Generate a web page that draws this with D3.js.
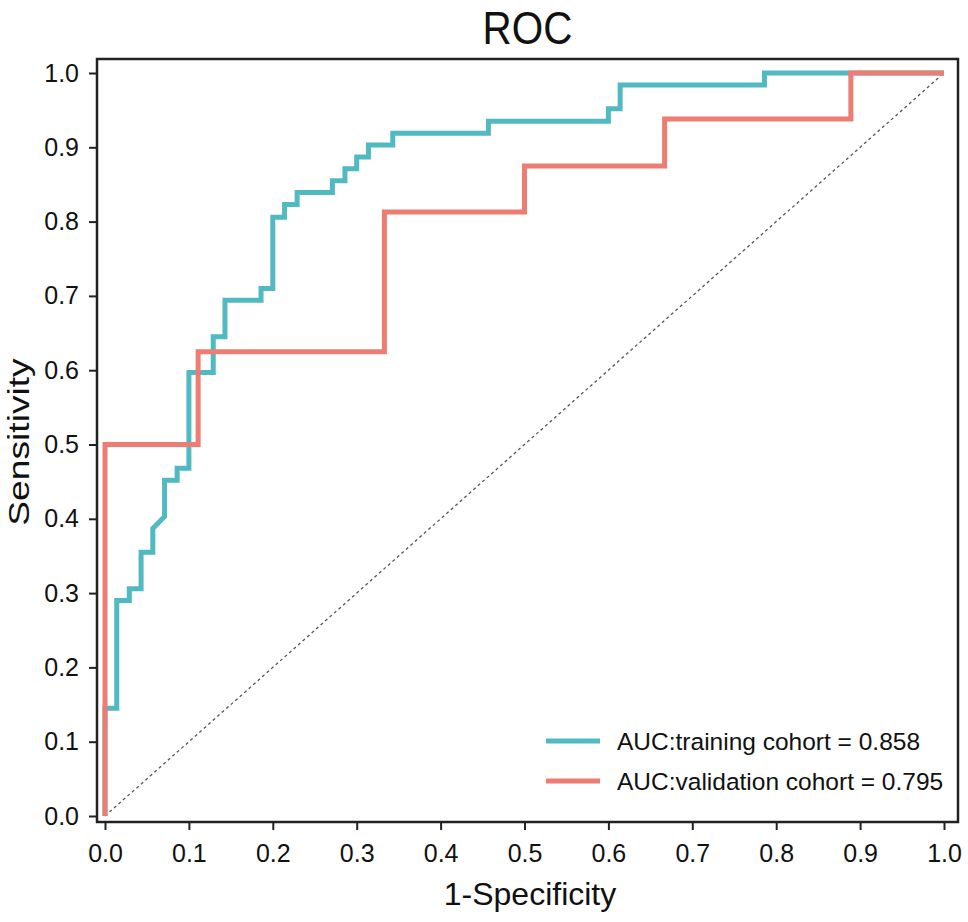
<!DOCTYPE html>
<html>
<head>
<meta charset="utf-8">
<script src="https://cdn.jsdelivr.net/npm/d3@7"></script>
<style>
  body { margin: 0; background: #fff; }
  text { font-family: "Liberation Sans", Arial, sans-serif; fill: #111; }
</style>
</head>
<body>
<div id="chart"></div>
<script>
// training cohort ROC (1-specificity, sensitivity)
const trainFpr = [0, 0, 0.014, 0.014, 0.029, 0.029, 0.043, 0.043, 0.057, 0.057, 0.071, 0.071, 0.086, 0.086,
  0.100, 0.100, 0.129, 0.129, 0.143, 0.143, 0.186, 0.186, 0.200, 0.200, 0.214, 0.214, 0.229, 0.229,
  0.271, 0.271, 0.286, 0.286, 0.300, 0.300, 0.314, 0.314, 0.343, 0.343, 0.457, 0.457, 0.600, 0.600,
  0.614, 0.614, 0.786, 0.786, 1];
const trainTpr = [0, 0.145, 0.145, 0.290, 0.290, 0.306, 0.306, 0.355, 0.355, 0.387, 0.403, 0.452, 0.452, 0.468,
  0.468, 0.597, 0.597, 0.645, 0.645, 0.694, 0.694, 0.710, 0.710, 0.806, 0.806, 0.823, 0.823, 0.839,
  0.839, 0.855, 0.855, 0.871, 0.871, 0.887, 0.887, 0.903, 0.903, 0.919, 0.919, 0.935, 0.935, 0.952,
  0.952, 0.984, 0.984, 1, 1];

// validation cohort ROC
const validFpr = [0, 0, 0.111, 0.111, 0.333, 0.333, 0.500, 0.500, 0.667, 0.667, 0.889, 0.889, 1];
const validTpr = [0, 0.500, 0.500, 0.625, 0.625, 0.813, 0.813, 0.875, 0.875, 0.938, 0.938, 1, 1];

const legendLabels = ['AUC:training cohort = 0.858', 'AUC:validation cohort = 0.795'];
const seriesColors = ['#50b9c2', '#ed7c72'];
const tickValues = [0, 0.1, 0.2, 0.3, 0.4, 0.5, 0.6, 0.7, 0.8, 0.9, 1.0];

const width = 968;
const height = 922;

const svg = d3.select('#chart').append('svg')
  .attr('width', width)
  .attr('height', height);

// data 0..1 maps here, the panel is a bit wider
const x = d3.scaleLinear().domain([0, 1]).range([105, 944]);
const y = d3.scaleLinear().domain([0, 1]).range([816, 73]);
const panel = { x0: 97, x1: 958, y0: 59, y1: 822 };

// diagonal reference
svg.append('line')
  .attr('x1', x(0)).attr('y1', y(0))
  .attr('x2', x(1)).attr('y2', y(1))
  .attr('stroke', '#555')
  .attr('stroke-width', 1.3)
  .attr('stroke-dasharray', '3,3');

const line = d3.line()
  .x(d => x(d[0]))
  .y(d => y(d[1]));

const series = [
  d3.zip(trainFpr, trainTpr),
  d3.zip(validFpr, validTpr)
];

// validation drawn on top like the original
series.forEach((pts, i) => {
  svg.append('path')
    .datum(pts)
    .attr('d', line)
    .attr('fill', 'none')
    .attr('stroke', seriesColors[i])
    .attr('stroke-width', 5)
    .attr('stroke-linejoin', 'miter');
});

// frame
svg.append('rect')
  .attr('x', panel.x0).attr('y', panel.y0)
  .attr('width', panel.x1 - panel.x0)
  .attr('height', panel.y1 - panel.y0)
  .attr('fill', 'none')
  .attr('stroke', '#222')
  .attr('stroke-width', 2.5);

// axes
const xAxis = svg.append('g')
  .attr('transform', `translate(0,${panel.y1})`)
  .call(d3.axisBottom(x).tickValues(tickValues).tickFormat(d3.format('.1f')).tickSize(8).tickPadding(14));
const yAxis = svg.append('g')
  .attr('transform', `translate(${panel.x0},0)`)
  .call(d3.axisLeft(y).tickValues(tickValues).tickFormat(d3.format('.1f')).tickSize(8).tickPadding(10));

[xAxis, yAxis].forEach(g => {
  g.select('.domain').remove();
  g.selectAll('.tick line').attr('stroke', '#222').attr('stroke-width', 2);
  g.selectAll('.tick text').attr('font-size', 25).attr('fill', '#111');
});

// legend
const legend = svg.append('g');
legendLabels.forEach((lab, i) => {
  const ly = 741 + i * 40;
  legend.append('line')
    .attr('x1', 546).attr('x2', 600)
    .attr('y1', ly).attr('y2', ly)
    .attr('stroke', seriesColors[i])
    .attr('stroke-width', 5);
  legend.append('text')
    .attr('x', 617).attr('y', ly)
    .attr('dy', '0.35em')
    .attr('font-size', 24.5)
    .text(lab);
});

// titles (original looks squeezed sideways)
svg.append('text')
  .attr('transform', `translate(${(panel.x0 + panel.x1) / 2},44) scale(0.86,1)`)
  .attr('text-anchor', 'middle')
  .attr('font-size', 47)
  .text('ROC');

svg.append('text')
  .attr('x', 530).attr('y', 905)
  .attr('text-anchor', 'middle')
  .attr('font-size', 32)
  .text('1-Specificity');

svg.append('text')
  .attr('transform', `translate(29,442) rotate(-90) scale(1.24,1)`)
  .attr('text-anchor', 'middle')
  .attr('font-size', 30)
  .text('Sensitivity');
</script>
</body>
</html>
